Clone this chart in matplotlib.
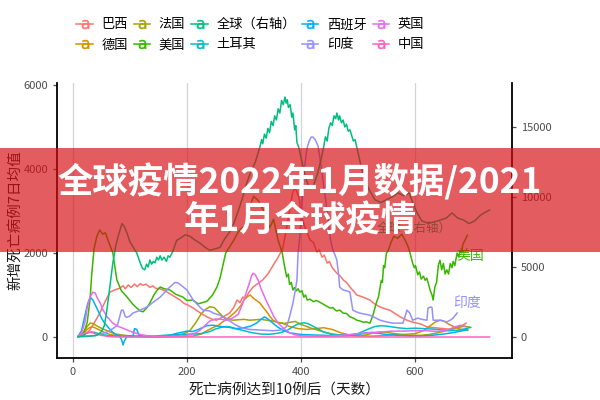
import matplotlib
matplotlib.use("Agg")
import matplotlib.pyplot as plt
from matplotlib.lines import Line2D
from matplotlib.patches import Rectangle

plt.rcParams['font.family'] = ['Noto Sans CJK SC', 'DejaVu Sans']

# ---------------- data ----------------
countries = ["巴西", "德国", "法国", "美国", "全球（右轴）", "土耳其", "西班牙", "印度", "英国", "中国"]
colors = ["#F8766D", "#D89000", "#A3A500", "#39B600", "#00BF7D", "#00BFC4", "#00B0F6", "#9590FF", "#E76BF3", "#FF62BC"]

x_ticks = [0, 200, 400, 600]
y_ticks_left = [0, 2000, 4000, 6000]
y_ticks_right = [0, 5000, 10000, 15000]

us_days = [9, 18, 25, 30, 33, 37, 42, 47, 52, 57, 63, 70, 77, 85, 95, 105, 112, 118, 123, 130, 135, 142, 148, 153, 160,
           170, 180, 193, 200, 210, 220, 235, 245, 253, 258, 263, 268, 275, 282, 290, 297, 304, 310, 317, 325, 335, 345,
           352, 360, 367, 371, 375, 378, 380, 383, 386, 389, 392, 395, 398, 402, 405, 408, 411, 416, 422, 427, 433, 438,
           442, 447, 451, 456, 462, 468, 474, 480, 486, 492, 498, 504, 510, 515, 521, 526, 532, 536, 539, 541, 543, 545,
           547, 550, 553, 558, 563, 570, 577, 583, 588, 591, 596, 599, 601, 605, 608, 611, 615, 618, 621, 624, 627, 630,
           632, 635, 638, 641, 644, 647, 650, 653, 656, 659, 662, 665, 667, 670, 674, 677, 679, 682, 684, 688, 692]
us_vals = [5, 60, 350, 900, 1500, 2100, 2400, 2550, 2450, 2480, 2250, 2000, 1360, 1100, 950, 780, 690, 620, 600, 700, 810,
           1000, 1120, 1190, 1150, 1120, 1020, 950, 870, 880, 790, 850, 1000, 1200, 1400, 1700, 2000, 2150, 2300, 2500,
           2600, 2650, 3100, 3350, 3250, 3000, 2600, 2800, 2300, 2020, 1700, 1430, 1500, 1250, 1300, 1120, 1180, 1100,
           1150, 1070, 1100, 950, 1000, 880, 900, 840, 870, 830, 790, 760, 720, 690, 700, 620, 640, 570, 560, 480, 450,
           400, 380, 350, 360, 330, 500, 800, 950, 1190, 1350, 1300, 1700, 1650, 2000, 2050, 2250, 2400, 2350, 2450, 2300,
           2150, 2020, 1760, 1650, 1700, 1480, 1550, 1380, 1450, 1350, 1400, 1250, 1100, 1000, 880, 1190, 1300, 1700,
           1830, 1600, 1750, 1500, 1600, 1500, 1750, 1650, 1800, 1700, 2000, 1900, 2050, 2000, 2200, 2310, 2420]

world_days = [9, 20, 30, 40, 45, 50, 55, 58, 62, 66, 70, 75, 80, 86, 90, 95, 100, 106, 112, 118, 122, 126, 129, 132, 135,
              138, 141, 144, 147, 150, 153, 156, 160, 164, 167, 170, 175, 182, 190, 197, 205, 215, 223, 232, 240, 250, 258,
              266, 275, 283, 290, 298, 305, 312, 320, 328, 331, 333, 336, 339, 342, 345, 348, 351, 354, 357, 360, 363, 366,
              369, 372, 374, 376, 378, 381, 384, 386, 389, 391, 393, 396, 402, 408, 415, 422, 430, 436, 440, 443, 446, 449,
              452, 455, 458, 461, 463, 466, 468, 471, 474, 477, 480, 483, 486, 489, 492, 495, 498, 505, 512, 520, 530, 540,
              550, 560, 570, 580, 590, 597, 604, 612, 622, 632, 645, 655, 665, 675, 685, 695, 705, 715, 723, 731]
world_vals = [30, 60, 70, 100, 200, 400, 800, 1500, 2700, 4000, 5300, 6500, 7300, 8100, 7900, 7400, 6800, 6400, 6000, 5300,
              4900, 4800, 5200, 5000, 5500, 5200, 5400, 5300, 5700, 5500, 5800, 5500, 5700, 5400, 5800, 5700, 6100, 6900,
              7100, 7300, 7200, 6900, 6700, 6400, 6200, 6300, 6400, 7000, 7500, 8200, 9000, 10000, 11000, 11800, 12500,
              13570, 14100, 13800, 14500, 14200, 14900, 14600, 15400, 15100, 15800, 15500, 16300, 16000, 16900, 16600,
              17140, 16700, 16950, 16400, 16600, 15700, 16000, 14800, 15100, 13900, 13570, 12500, 11400, 10600, 10800,
              11800, 12800, 13600, 14300, 14000, 14900, 15300, 15100, 15800, 15600, 16000, 15500, 15800, 15300, 15500,
              15000, 15200, 14700, 14800, 14400, 14000, 14100, 13570, 12300, 11200, 10500, 9800, 9600, 9800, 10000, 10300,
              10100, 10290, 9500, 8860, 8300, 8140, 8200, 8360, 8500, 8860, 8500, 8360, 8100, 8300, 8700, 8900, 9070]

brazil_days = [9, 20, 30, 40, 47, 55, 65, 75, 82, 88, 92, 97, 102, 108, 113, 118, 123, 128, 135, 140, 145, 152, 158, 164,
               170, 176, 182, 188, 195, 203, 211, 218, 225, 235, 245, 252, 262, 275, 282, 288, 293, 298, 303, 308, 316, 325,
               333, 342, 351, 360, 368, 375, 380, 385, 389, 393, 397, 400, 406, 412, 416, 422, 428, 432, 437, 441, 446, 450,
               455, 463, 469, 475, 480, 486, 492, 498, 509, 521, 530, 539, 548, 556, 565, 574, 586, 597, 610, 621, 635, 650,
               665, 680, 690]
brazil_vals = [5, 40, 170, 400, 570, 800, 1070, 1130, 1160, 1220, 1150, 1240, 1180, 1260, 1200, 1270, 1230, 1260, 1180,
               1220, 1160, 1150, 1120, 1080, 1030, 980, 930, 880, 800, 750, 690, 620, 560, 480, 420, 400, 470, 570, 700,
               880, 820, 950, 920, 1050, 1190, 1280, 1360, 1500, 1700, 1900, 2100, 2600, 3000, 3400, 3570, 3450, 3300, 2950,
               2650, 2450, 2310, 2250, 2020, 2080, 1900, 1950, 1760, 1800, 1650, 1520, 1450, 1350, 1300, 1190, 1100, 1000,
               950, 880, 780, 715, 670, 640, 560, 480, 400, 350, 310, 240, 220, 200, 180, 250, 330]

india_days = [9, 20, 30, 40, 50, 60, 70, 78, 82, 85, 88, 92, 95, 100, 105, 115, 130, 140, 153, 162, 170, 179, 184, 188, 200,
              211, 220, 228, 240, 246, 258, 266, 275, 285, 298, 310, 323, 335, 350, 362, 370, 375, 380, 386, 390, 393, 395,
              398, 402, 406, 410, 414, 418, 421, 425, 430, 433, 437, 442, 447, 452, 456, 460, 463, 466, 468, 474, 480, 486,
              491, 497, 503, 510, 521, 530, 539, 550, 561, 570, 579, 583, 586, 591, 596, 605, 612, 621, 623, 628, 630, 632,
              640, 644, 650, 656, 662, 667, 671, 674]
india_vals = [2, 10, 20, 40, 80, 120, 200, 280, 480, 640, 640, 480, 470, 500, 570, 620, 715, 820, 950, 1080, 1190, 1300,
              1290, 1250, 1120, 880, 750, 640, 620, 570, 520, 450, 380, 290, 210, 180, 170, 160, 150, 160, 200, 250, 480, 810,
              1100, 1360, 2000, 2380, 3200, 4000, 4450, 4650, 4760, 4760, 4700, 4550, 4300, 3900, 3400, 2900, 2300, 2070,
              1950, 1830, 1500, 1190, 1120, 1100, 1070, 640, 600, 570, 550, 520, 460, 400, 360, 330, 330, 330, 500, 640, 570,
              400, 450, 420, 400, 690, 715, 700, 400, 400, 400, 380, 360, 400, 450, 520, 570]

uk_days = [9, 15, 21, 25, 30, 35, 39, 42, 48, 53, 60, 70, 80, 95, 105, 118, 130, 150, 170, 190, 200, 210, 220, 230, 240, 250,
           260, 270, 280, 290, 298, 305, 310, 313, 316, 320, 325, 330, 338, 345, 352, 360, 370, 380, 390, 400, 420, 450, 480,
           500, 520, 540, 560, 580, 600, 620, 640, 660, 670, 680, 688]
uk_vals = [15, 100, 350, 700, 950, 1070, 1050, 950, 800, 640, 480, 330, 250, 170, 110, 60, 30, 15, 12, 20, 40, 70, 130, 250,
           380, 430, 420, 400, 450, 540, 800, 1100, 1300, 1450, 1520, 1480, 1350, 1150, 900, 700, 500, 330, 200, 100, 50,
           30, 20, 20, 50, 80, 100, 120, 140, 140, 150, 150, 130, 180, 240, 280, 260]

spain_days = [9, 15, 20, 25, 28, 31, 35, 40, 45, 50, 55, 60, 65, 70, 75, 80, 85, 88, 90, 95, 105, 108, 112, 116, 125, 140,
              155, 170, 180, 190, 200, 210, 220, 235, 245, 255, 265, 275, 285, 300, 312, 322, 330, 336, 342, 350, 360, 370,
              380, 390, 400, 420, 440, 460, 480, 500, 515, 525, 535, 550, 570, 590, 610, 630, 650, 665, 680, 692]
spain_vals = [20, 150, 450, 750, 880, 940, 880, 740, 600, 450, 340, 260, 180, 110, 60, 40, -50, -190, -100, 20, 10, 200, 180,
              40, 5, 5, 10, 40, 80, 110, 140, 130, 180, 270, 280, 260, 240, 230, 200, 220, 260, 330, 420, 480, 430, 340, 230,
              150, 100, 80, 60, 50, 40, 30, 30, 60, 100, 110, 90, 60, 40, 30, 25, 40, 70, 100, 140, 170]

turkey_days = [9, 15, 22, 28, 32, 38, 45, 55, 65, 80, 100, 120, 140, 160, 175, 190, 210, 225, 240, 250, 260, 268, 275, 285,
               300, 315, 330, 345, 360, 375, 385, 395, 405, 412, 425, 440, 455, 470, 485, 500, 510, 520, 530, 540, 550, 560,
               570, 585, 600, 615, 630, 645, 660, 675, 690, 698]
turkey_vals = [10, 40, 80, 110, 120, 110, 80, 50, 30, 20, 18, 20, 20, 40, 55, 60, 70, 80, 130, 190, 230, 250, 240, 200,
               150, 100, 70, 65, 90, 150, 240, 310, 340, 320, 230, 120, 60, 50, 50, 80, 140, 200, 250, 270, 260, 240, 220,
               200, 210, 200, 190, 170, 150, 160, 200, 230]

france_days = [9, 15, 20, 25, 30, 35, 40, 48, 55, 65, 75, 90, 110, 130, 150, 170, 185, 195, 205, 215, 225, 232, 240, 248,
               255, 262, 270, 280, 290, 300, 310, 320, 330, 340, 350, 360, 370, 380, 390, 400, 410, 420, 430, 445, 460, 480,
               500, 515, 525, 535, 545, 555, 570, 590, 610, 625, 640, 655, 665, 675, 685, 695]
france_vals = [10, 60, 150, 250, 330, 320, 280, 220, 180, 120, 70, 40, 20, 10, 10, 15, 40, 80, 150, 330, 550, 650, 720, 700,
               600, 500, 430, 400, 410, 420, 400, 410, 420, 400, 380, 350, 320, 350, 370, 300, 250, 200, 160, 100, 60, 40,
               30, 50, 90, 110, 120, 100, 70, 40, 40, 60, 100, 150, 200, 230, 250, 240]

germany_days = [9, 15, 20, 25, 30, 35, 40, 48, 55, 65, 80, 100, 130, 160, 190, 210, 225, 235, 245, 255, 265, 275, 282, 288,
                295, 300, 305, 311, 316, 322, 328, 334, 340, 346, 351, 360, 368, 380, 395, 410, 425, 440, 455, 470, 485, 500,
                520, 540, 560, 580, 600, 615, 625, 635, 640, 645, 652, 660, 668, 676, 685, 693]
germany_vals = [5, 40, 100, 180, 230, 240, 210, 160, 110, 60, 25, 10, 5, 5, 10, 20, 70, 150, 220, 280, 380, 480, 560, 640,
                760, 880, 950, 1000, 930, 870, 810, 700, 600, 480, 400, 340, 330, 250, 200, 180, 200, 220, 180, 100, 50, 30,
                20, 30, 50, 60, 80, 150, 250, 350, 380, 400, 370, 300, 250, 200, 170, 160]

china_days = [9, 15, 20, 25, 30, 35, 40, 50, 60, 70, 80, 120, 200, 300, 400, 500, 600, 700, 731]
china_vals = [10, 60, 90, 100, 110, 100, 70, 40, 15, 5, 2, 0, 0, 1, 0, 0, 0, 0, 0]

series = {
    "巴西": (brazil_days, brazil_vals),
    "德国": (germany_days, germany_vals),
    "法国": (france_days, france_vals),
    "美国": (us_days, us_vals),
    "全球（右轴）": (world_days, world_vals),
    "土耳其": (turkey_days, turkey_vals),
    "西班牙": (spain_days, spain_vals),
    "印度": (india_days, india_vals),
    "英国": (uk_days, uk_vals),
    "中国": (china_days, china_vals),
}

title_text = "全球疫情2022年1月数据/2021\n年1月全球疫情"

# ---------------- figure ----------------
fig = plt.figure(figsize=(6, 4), dpi=100)
ax = fig.add_axes([0.095, 0.105, 0.758, 0.6875])
ax2 = ax.twinx()

tick_col = "#4D4D4D"
for name, col in zip(countries, colors):
    d, v = series[name]
    if name == "全球（右轴）":
        ax2.plot(d, v, color=col, lw=1.1, zorder=3)
    else:
        ax.plot(d, v, color=col, lw=1.1, zorder=3)

ax.set_xlim(-28, 770)
ax.set_ylim(-500, 6048)
ax2.set_ylim(-1500, 18144)

ax.set_xticks(x_ticks)
ax.set_yticks(y_ticks_left)
ax2.set_yticks(y_ticks_right)

ax.grid(axis="x", color="#D4D4D4", lw=0.9)
ax.grid(axis="y", visible=False)
ax.set_axisbelow(True)

for a in (ax, ax2):
    a.spines["top"].set_visible(False)
    for s in a.spines.values():
        s.set_linewidth(1.3)
        s.set_color("black")
    a.tick_params(colors=tick_col, labelsize=8, length=3, width=0.9)
ax.spines["right"].set_visible(False)
ax2.spines["left"].set_visible(False)
ax2.spines["bottom"].set_visible(False)

ax.set_xlabel("死亡病例达到10例后（天数）", fontsize=10.5, color="#1a1a1a", labelpad=5)
ax.set_ylabel("新增死亡病例7日均值", fontsize=10.5, color="#1a1a1a", labelpad=1)

# direct labels
ax.text(us_days[-1] + 6, us_vals[-1] - 500, "美国", color=colors[3], fontsize=10, ha="center", va="center", zorder=4)
ax.text(india_days[-1] + 17, india_vals[-1] + 240, "印度", color=colors[7], fontsize=10, ha="center", va="center", zorder=4)
ax2.text(world_days[-1] - 132, world_vals[-1] - 1300, "全球（右轴）", color=colors[4], fontsize=9, ha="center",
         va="center", zorder=4)

# legend
handles = [Line2D([], [], color=c, lw=1.1, marker=r"$\mathrm{a}$", markersize=6.5, markeredgewidth=0.3)
           for c in colors]
fig.legend(handles, countries, loc="center", bbox_to_anchor=(0.417, 0.913), ncol=5, frameon=False, fontsize=9.5,
           handlelength=1.25, handletextpad=0.65, columnspacing=0.45, labelspacing=0.55)

# banner overlay
fig.add_artist(Rectangle((0, 1 - 252 / 400), 1, 104 / 400, transform=fig.transFigure,
                         facecolor=(215 / 255, 15 / 255, 20 / 255), alpha=0.68, edgecolor="none", zorder=10))
fig.text(0.5, 1 - 201 / 400, title_text, ha="center", va="center", color="white", fontsize=25.5, fontweight="bold",
         linespacing=1.1, zorder=11)

fig.savefig("out.png", dpi=100)
